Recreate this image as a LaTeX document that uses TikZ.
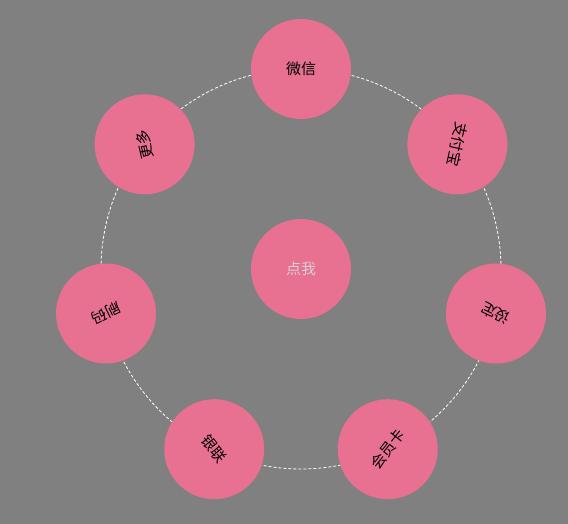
\documentclass[tikz,border=0pt]{standalone}
\usepackage{fontspec}
\newfontfamily\cjk{Noto Sans CJK SC}
\usetikzlibrary{calc}

\definecolor{backdrop}{RGB}{128,128,128}
\definecolor{petal}{RGB}{232,113,146}
\definecolor{hubtext}{RGB}{218,206,212}

\begin{document}
\begin{tikzpicture}[
    x=1pt, y=1pt,
    % Styles
    item/.style={ % Menu entry on the ring
        circle,
        minimum size=100pt,
        inner sep=0pt,
        fill=petal,
        text=black,
        font=\cjk\fontsize{15}{15}\selectfont
    },
    hub/.style={ % Centre button
        item,
        text=hubtext
    },
    orbit/.style={ % Dashed ring through the entries
        draw=white,
        line width=0.8pt,
        dash pattern=on 3pt off 2pt
    }
]
    % Background and frame
    \fill[backdrop] (0,0) rectangle (568,524);
    \coordinate (o) at (301,255);

    % Ring behind the entries
    \draw[orbit] (o) circle[radius=200];

    % Centre button
    \node[hub] (dianwo) at (o) {点我};

    % Menu entries, a seventh of a turn apart
    \node[item] (weixin) at ($(o)+(90:200)$) {微信};
    \node[item, rotate=-102.86] (zhifubao) at ($(o)+(38.57:200)$) {支付宝};
    \node[item, rotate=-205.71] (sheding) at ($(o)+(-12.86:200)$) {设定};
    \node[item, rotate=-308.57] (huiyuanka) at ($(o)+(-64.29:200)$) {会员卡};
    \node[item, rotate=-411.43] (yinlian) at ($(o)+(-115.71:200)$) {银联};
    \node[item, rotate=-514.29] (shuama) at ($(o)+(-167.14:200)$) {刷码};
    \node[item, rotate=-617.14] (gengduo) at ($(o)+(-218.57:200)$) {更多};
\end{tikzpicture}
\end{document}
